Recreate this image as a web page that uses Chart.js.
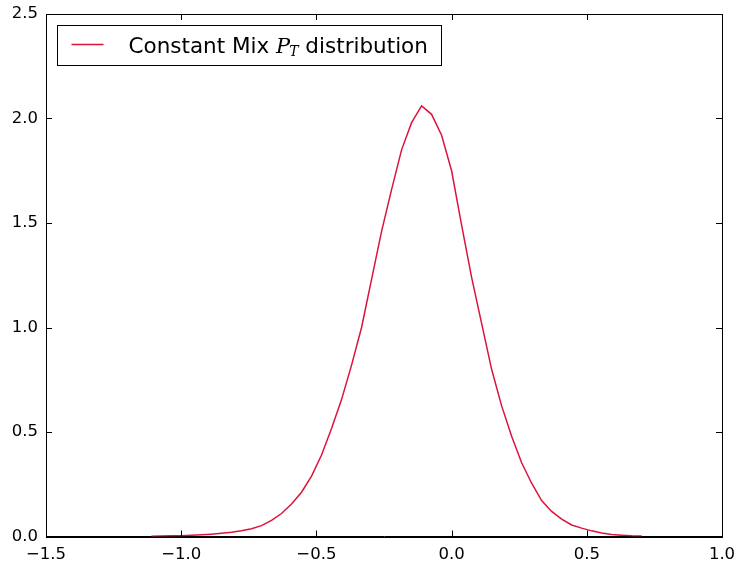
<!DOCTYPE html>
<html>
<head>
<meta charset="utf-8">
<title>Constant Mix P_T distribution</title>
<script src="https://cdn.jsdelivr.net/npm/chart.js@4.4.1/dist/chart.umd.min.js"></script>
<style>
  html, body { margin: 0; padding: 0; background: #fff; }
  #wrap { width: 736px; height: 569px; }
</style>
</head>
<body>
<div id="wrap"><canvas id="ptChart" width="736" height="569"></canvas></div>
<script>
// bin centres of the P_T histogram
const ptValues = [
  -1.110, -1.073, -1.036, -0.999, -0.962, -0.925, -0.888, -0.851, -0.814, -0.777,
  -0.740, -0.703, -0.666, -0.629, -0.592, -0.555, -0.518, -0.481, -0.444, -0.407,
  -0.370, -0.333, -0.296, -0.259, -0.222, -0.185, -0.148, -0.111, -0.074, -0.037,
   0.000,  0.037,  0.074,  0.111,  0.148,  0.185,  0.222,  0.259,  0.296,  0.333,
   0.370,  0.407,  0.444,  0.481,  0.518,  0.555,  0.592,  0.629,  0.666,  0.703
];

// normalised density
const density = [
  0.001, 0.002, 0.003, 0.004, 0.006, 0.008, 0.011, 0.015, 0.020, 0.027,
  0.037, 0.052, 0.077, 0.110, 0.155, 0.212, 0.289, 0.390, 0.517, 0.655,
  0.820, 1.000, 1.230, 1.460, 1.660, 1.850, 1.980, 2.060, 2.020, 1.920,
  1.750, 1.490, 1.240, 1.020, 0.800, 0.625, 0.480, 0.353, 0.255, 0.172,
  0.120, 0.083, 0.055, 0.040, 0.027, 0.017, 0.010, 0.006, 0.003, 0.002
];

const xTicks = [-1.5, -1.0, -0.5, 0.0, 0.5, 1.0];
const yTicks = [0.0, 0.5, 1.0, 1.5, 2.0, 2.5];

const lineColor = "#dc143c";
const tickFont = { family: "DejaVu Sans", size: 16.5 };

function fmt(v) {
  return Number(v).toFixed(1).replace("-", "\u2212");
}

// box around the axes with inward ticks on all four sides
const framePlugin = {
  id: "frame",
  afterDraw(chart) {
    const ctx = chart.ctx;
    const a = chart.chartArea;
    const xs = chart.scales.x;
    const ys = chart.scales.y;
    const len = 6;
    ctx.save();
    ctx.strokeStyle = "#000";
    ctx.lineWidth = 1;
    ctx.strokeRect(Math.round(a.left) + 0.5, Math.round(a.top) + 0.5,
      Math.round(a.right - a.left), Math.round(a.bottom - a.top));
    ctx.beginPath();
    xTicks.forEach(function (v) {
      const px = Math.round(xs.getPixelForValue(v)) + 0.5;
      ctx.moveTo(px, a.bottom); ctx.lineTo(px, a.bottom - len);
      ctx.moveTo(px, a.top); ctx.lineTo(px, a.top + len);
    });
    yTicks.forEach(function (v) {
      const py = Math.round(ys.getPixelForValue(v)) + 0.5;
      ctx.moveTo(a.left, py); ctx.lineTo(a.left + len, py);
      ctx.moveTo(a.right, py); ctx.lineTo(a.right - len, py);
    });
    ctx.stroke();
    ctx.restore();
  }
};

// matplotlib style legend box in the upper left corner
const legendPlugin = {
  id: "mplLegend",
  afterDraw(chart) {
    const ctx = chart.ctx;
    const a = chart.chartArea;
    const left = Math.round(a.left) + 11.5;
    const top = Math.round(a.top) + 11.5;
    const w = 384, h = 40;
    ctx.save();
    ctx.fillStyle = "#fff";
    ctx.fillRect(left, top, w, h);
    ctx.strokeStyle = "#000";
    ctx.lineWidth = 1;
    ctx.strokeRect(left, top, w, h);

    const midY = top + 19;
    ctx.strokeStyle = lineColor;
    ctx.lineWidth = 1.5;
    ctx.beginPath();
    ctx.moveTo(left + 14, midY);
    ctx.lineTo(left + 46, midY);
    ctx.stroke();

    ctx.fillStyle = "#000";
    ctx.textBaseline = "alphabetic";
    const base = top + 27;
    let x = left + 71;
    ctx.font = "21.5px 'DejaVu Sans'";
    ctx.fillText("Constant Mix ", x, base);
    x += ctx.measureText("Constant Mix ").width;
    ctx.font = "italic 21px 'DejaVu Serif'";
    ctx.fillText("P", x, base);
    x += ctx.measureText("P").width - 1;
    ctx.font = "italic 14px 'DejaVu Serif'";
    ctx.fillText("T", x, base + 3);
    x += ctx.measureText("T").width;
    ctx.font = "21.5px 'DejaVu Sans'";
    ctx.fillText(" distribution", x, base);
    ctx.restore();
  }
};

new Chart("ptChart", {
  type: "line",
  data: {
    datasets: [
      {
        label: "Constant Mix P_T distribution",
        data: ptValues.map(function (v, i) { return { x: v, y: density[i] }; }),
        borderColor: lineColor,
        borderWidth: 1.5,
        pointRadius: 0,
        fill: false,
        tension: 0,
      },
    ],
  },
  options: {
    responsive: false,
    animation: false,
    devicePixelRatio: 1,
    layout: { padding: { top: 14, right: 14, left: 0, bottom: 0 } },
    plugins: {
      legend: { display: false },
      tooltip: { enabled: false },
    },
    scales: {
      x: {
        type: "linear",
        min: -1.5,
        max: 1.0,
        afterFit: function (s) { s.height = 32.5; s.paddingLeft = 0; s.paddingRight = 0; },
        afterBuildTicks: function (s) { s.ticks = xTicks.map(function (v) { return { value: v }; }); },
        ticks: { callback: fmt, font: tickFont, color: "#000", padding: 8, maxRotation: 0 },
        grid: { drawOnChartArea: false, drawTicks: false },
        border: { display: true, color: "#000", width: 1 },
      },
      y: {
        min: 0,
        max: 2.5,
        afterFit: function (s) { s.width = 46; s.paddingTop = 0; s.paddingBottom = 0; },
        afterBuildTicks: function (s) { s.ticks = yTicks.map(function (v) { return { value: v }; }); },
        ticks: { callback: fmt, font: tickFont, color: "#000", padding: 8 },
        grid: { drawOnChartArea: false, drawTicks: false },
        border: { display: true, color: "#000", width: 1 },
      },
    },
  },
  plugins: [framePlugin, legendPlugin],
});
</script>
</body>
</html>
